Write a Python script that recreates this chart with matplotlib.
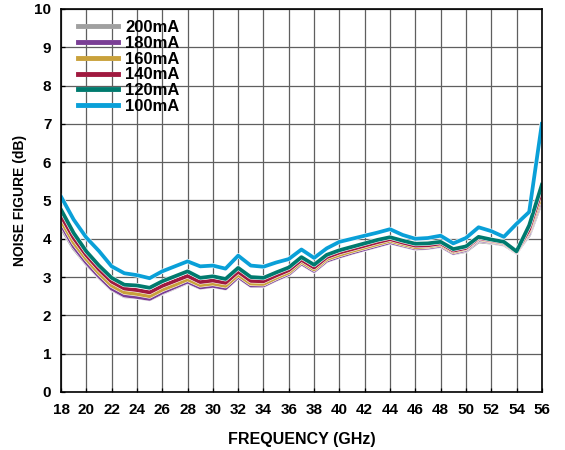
import matplotlib
matplotlib.use("Agg")
import matplotlib.pyplot as plt
import matplotlib.patheffects as pe

plt.rcParams['font.family'] = ['Liberation Sans', 'DejaVu Sans']
plt.rcParams['font.weight'] = 'bold'

# === Dados ===
freq = list(range(18, 57))

nf_200 = [4.30, 3.75, 3.35, 3.00, 2.68, 2.50, 2.47, 2.42, 2.58, 2.72,
          2.86, 2.72, 2.76, 2.70, 3.00, 2.77, 2.77, 2.93, 3.07, 3.35,
          3.15, 3.42, 3.53, 3.63, 3.72, 3.81, 3.90, 3.82, 3.74, 3.76,
          3.81, 3.62, 3.68, 3.93, 3.90, 3.85, 3.66, 4.10, 5.00]
nf_180 = [4.38, 3.80, 3.38, 3.02, 2.70, 2.52, 2.48, 2.43, 2.60, 2.74,
          2.88, 2.73, 2.77, 2.71, 3.01, 2.78, 2.78, 2.94, 3.08, 3.36,
          3.16, 3.43, 3.54, 3.64, 3.73, 3.82, 3.91, 3.83, 3.75, 3.77,
          3.82, 3.63, 3.71, 3.97, 3.92, 3.86, 3.64, 4.15, 5.08]
nf_160 = [4.48, 3.90, 3.47, 3.10, 2.78, 2.60, 2.56, 2.50, 2.67, 2.80,
          2.94, 2.79, 2.83, 2.77, 3.06, 2.83, 2.82, 2.98, 3.12, 3.40,
          3.20, 3.47, 3.58, 3.68, 3.77, 3.86, 3.95, 3.86, 3.78, 3.80,
          3.85, 3.66, 3.74, 4.00, 3.94, 3.88, 3.65, 4.20, 5.15]
nf_140 = [4.60, 4.02, 3.57, 3.20, 2.88, 2.70, 2.66, 2.60, 2.77, 2.90,
          3.03, 2.87, 2.91, 2.85, 3.14, 2.90, 2.89, 3.04, 3.18, 3.45,
          3.25, 3.52, 3.64, 3.73, 3.82, 3.91, 3.99, 3.90, 3.82, 3.83,
          3.88, 3.69, 3.76, 4.02, 3.96, 3.90, 3.66, 4.25, 5.28]
nf_120 = [4.76, 4.15, 3.67, 3.30, 2.98, 2.80, 2.78, 2.72, 2.89, 3.02,
          3.15, 2.98, 3.02, 2.95, 3.24, 3.00, 2.98, 3.12, 3.25, 3.52,
          3.32, 3.58, 3.70, 3.79, 3.88, 3.97, 4.04, 3.95, 3.87, 3.88,
          3.92, 3.73, 3.80, 4.05, 3.98, 3.92, 3.67, 4.35, 5.41]
nf_100 = [5.10, 4.50, 4.03, 3.68, 3.28, 3.10, 3.05, 2.97, 3.15, 3.28,
          3.41, 3.28, 3.30, 3.22, 3.56, 3.30, 3.27, 3.38, 3.47, 3.72,
          3.50, 3.75, 3.92, 4.00, 4.08, 4.16, 4.25, 4.10, 4.00, 4.02,
          4.08, 3.88, 4.02, 4.30, 4.20, 4.05, 4.39, 4.70, 7.00]

labels = ["200mA", "180mA", "160mA", "140mA", "120mA", "100mA"]
series = [nf_200, nf_180, nf_160, nf_140, nf_120, nf_100]
colors = ['#a0a0a0', '#7a3e95', '#c9a13b', '#a0193f', '#007a6e', '#0aa0d8']

# === Figura ===
fig = plt.figure(figsize=(5.65, 4.5), dpi=100)
ax = fig.add_axes([0.108, 0.129, 0.851, 0.851])

lw = 2.7
for vals, lab, c in zip(series, labels, colors):
    ax.plot(freq, vals, color=c, lw=lw, label=lab, solid_joinstyle='round',
            path_effects=[pe.Stroke(linewidth=lw + 0.8, foreground='white'), pe.Normal()])

ax.set_xlim(18, 56)
ax.set_ylim(0, 10)
ax.set_xticks(range(18, 57, 2))
ax.set_yticks(range(0, 11))
ax.grid(True, color='#5f5f5f', lw=0.9)
ax.set_axisbelow(True)
ax.tick_params(direction='in', length=3, labelsize=11, width=0.9)
ax.tick_params(axis='x', pad=8)
ax.tick_params(axis='y', pad=7)
for sp in ax.spines.values():
    sp.set_linewidth(1.2)

ax.set_xlabel("FREQUENCY (GHz)", fontsize=11.5, fontweight='bold', labelpad=11)
ax.set_ylabel("NOISE FIGURE (dB)", fontsize=10, fontweight='bold', labelpad=5)

leg = ax.legend(loc='upper left', bbox_to_anchor=(0.012, 1.0), frameon=False,
                prop={'weight': 'bold', 'size': 12},
                labelspacing=0.05, handlelength=2.4, handletextpad=0.45,
                borderaxespad=0.25)
for h in leg.get_lines():
    h.set_linewidth(3.5)

fig.savefig("out.png", dpi=100)
